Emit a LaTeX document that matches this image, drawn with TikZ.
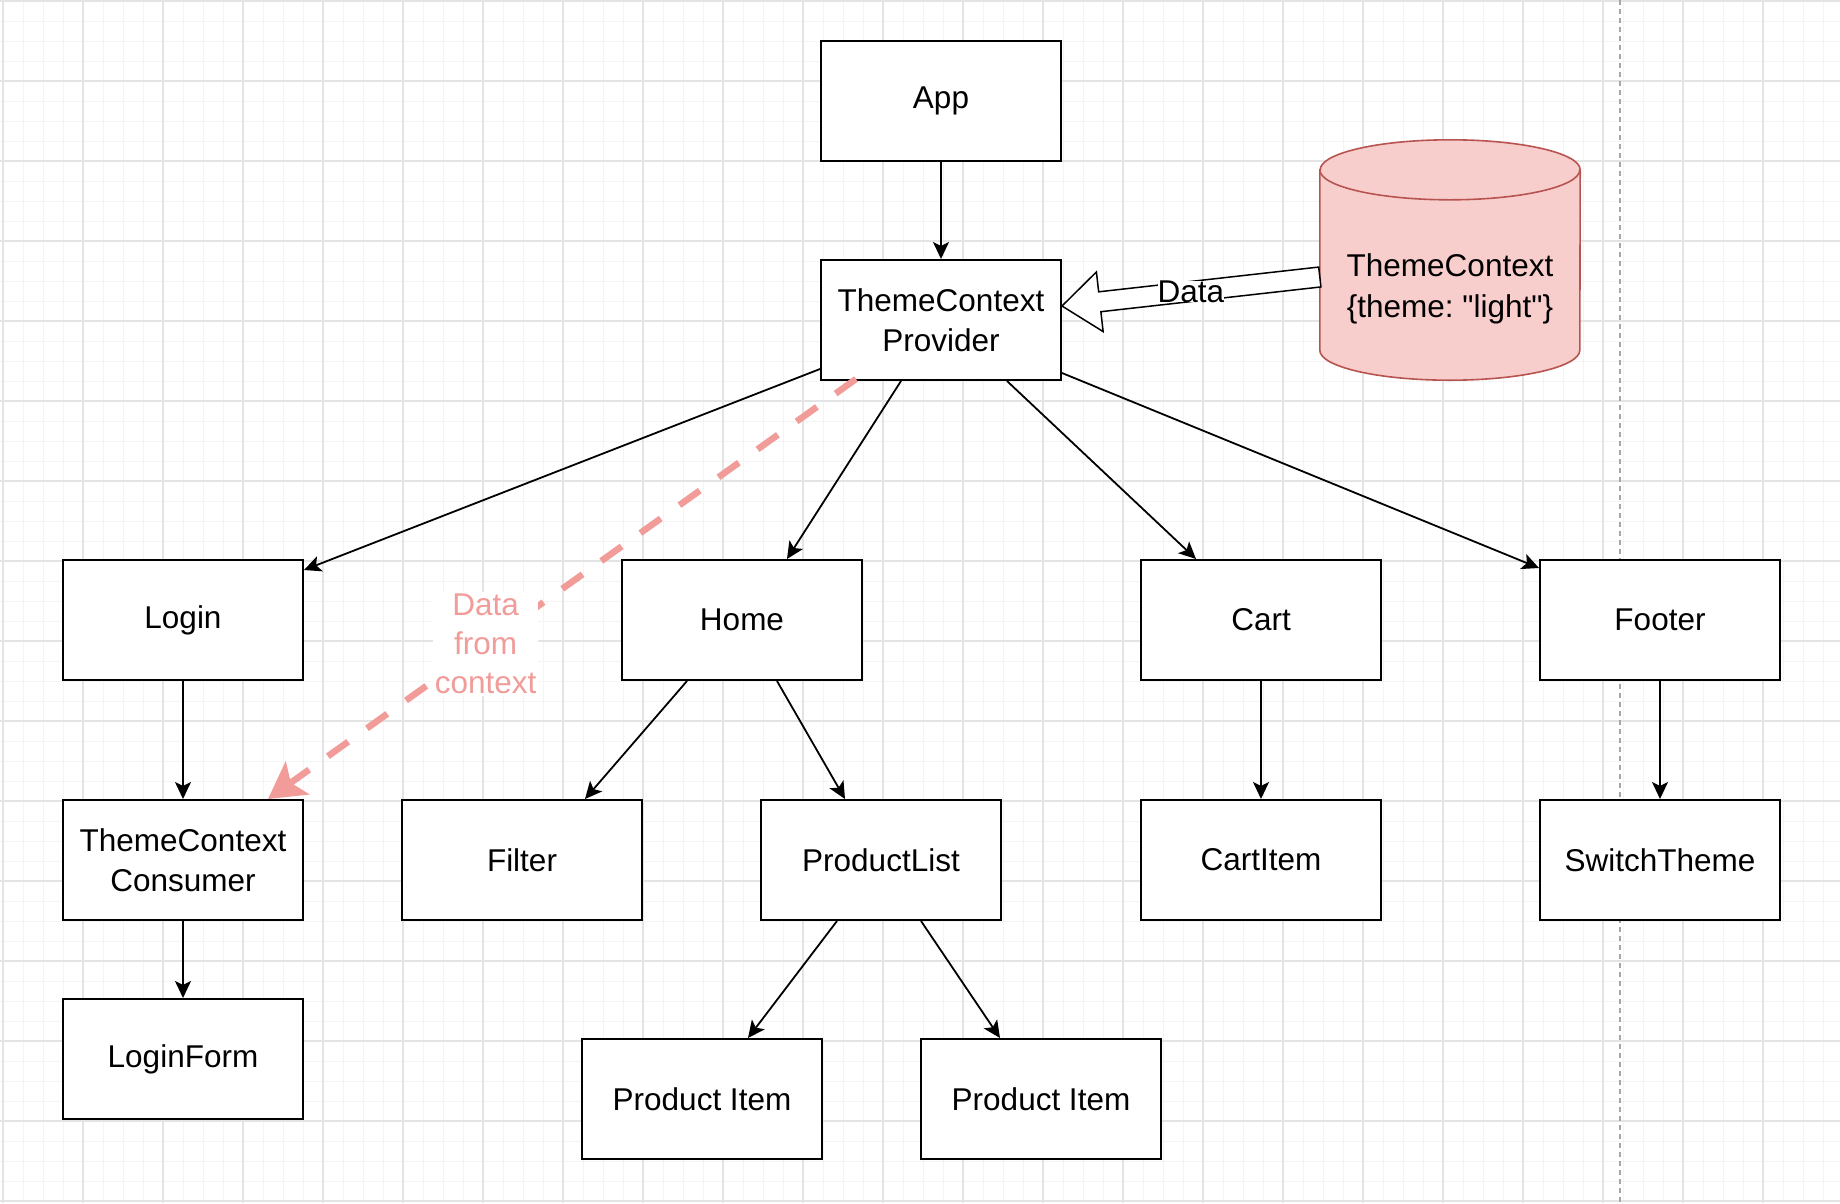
\documentclass[tikz,border=0pt]{standalone}
\usepackage{fontspec}
\setmainfont{Liberation Sans}[Ligatures=TeXOff]
\usetikzlibrary{arrows.meta,calc}
\definecolor{gridminor}{HTML}{F4F4F4}
\definecolor{gridmajor}{HTML}{E4E4E4}
\definecolor{cylfill}{HTML}{F8CECC}
\definecolor{cylline}{HTML}{B85450}
\definecolor{salmon}{HTML}{F19C99}
\frenchspacing
\begin{document}
\begin{tikzpicture}[x=1pt,y=-1pt,
  box/.style={draw=black,line width=2pt,fill=white,minimum width=240pt,minimum height=120pt,inner sep=0pt,align=center,font=\fontsize{31.5}{40}\selectfont},
  edge/.style={line width=1.8pt,-{Stealth[length=17pt,width=16pt,inset=4pt]}},
  lbl/.style={font=\fontsize{31.5}{39}\selectfont,align=center,inner sep=1pt},
  minorline/.style={draw=gridminor,line width=1pt},
  majorline/.style={draw=gridmajor,line width=1.6pt}]
\useasboundingbox (0,0) rectangle (1840,1203);
\fill[white] (0,0) rectangle (1840,1203);
% grid
\foreach \x in {3,23,...,1843} \draw[minorline] (\x,0) -- (\x,1203);
\foreach \y in {1,21,...,1201} \draw[minorline] (0,\y) -- (1840,\y);
\foreach \x in {3,83,...,1843} \draw[majorline] (\x,0) -- (\x,1203);
\foreach \y in {1,81,...,1201} \draw[majorline] (0,\y) -- (1840,\y);
\draw[gray!70,line width=1.5pt,dash pattern=on 5pt off 4pt] (1620,0) -- (1620,1203);

% nodes
\node[box] (app) at (941,101) {App};
\node[box] (prov) at (941,320) {ThemeContext\\Provider};
\node[box] (login) at (183,620) {Login};
\node[box] (home) at (742,620) {Home};
\node[box] (cart) at (1261,620) {Cart};
\node[box] (footer) at (1660,620) {Footer};
\node[box] (cons) at (183,860) {ThemeContext\\Consumer};
\node[box] (filter) at (522,860) {Filter};
\node[box] (plist) at (881,860) {ProductList};
\node[box] (citem) at (1261,860) {CartItem};
\node[box] (switch) at (1660,860) {SwitchTheme};
\node[box] (lform) at (183,1059) {LoginForm};
\node[box] (pi1) at (702,1099) {Product Item};
\node[box] (pi2) at (1041,1099) {Product Item};

% cylinder
\node[minimum width=260pt,minimum height=240pt,inner sep=0pt] (ctx) at (1450,260) {};
\path[fill=cylfill,draw=cylline,line width=1.6pt]
  ($(ctx.north west)+(0,30)$) -- ($(ctx.south west)+(0,-30)$)
  arc[start angle=180,end angle=360,x radius=130pt,y radius=30pt]
  -- ($(ctx.north east)+(0,30)$)
  arc[start angle=0,end angle=180,x radius=130pt,y radius=30pt] -- cycle;
\draw[cylline,line width=1.6pt] ($(ctx.north west)+(0,30)$)
  arc[start angle=180,end angle=360,x radius=130pt,y radius=30pt];
\node[lbl,font=\fontsize{31.5}{41}\selectfont] (ctxtext) at ($(ctx.center)+(0,29)$) {ThemeContext\\\{theme: "light"\}};

% flex arrow "Data"
\coordinate (dtip) at ($(prov.east)+(0,-14)$);
\coordinate (dtail) at ($(ctx.west)+(0,17)$);
\coordinate (hb) at ($(dtip)!38pt!(dtail)$);
\draw[fill=white,line width=1.5pt,line join=miter]
  (dtip) -- ($(hb)!30pt!90:(dtail)$) -- ($(hb)!10pt!90:(dtail)$)
  -- ($(dtail)!10pt!-90:(hb)$) -- ($(dtail)!10pt!90:(hb)$)
  -- ($(hb)!10pt!-90:(dtail)$) -- ($(hb)!30pt!-90:(dtail)$) -- cycle;
\node[lbl,fill=white,inner sep=0pt] (datalbl) at ($(dtip)!0.5!(dtail)$) {Data};

% edges
\draw[edge] (app) -- (prov);
\draw[edge] ($(prov.south west)+(0,-12)$) -- ($(login.north east)+(0,11)$);
\draw[edge] ($(prov.south)+(-40,0)$) -- ($(home.north)+(45,0)$);
\draw[edge] ($(prov.south)+(66,0)$) -- ($(cart.north)+(-65,0)$);
\draw[edge] ($(prov.south east)+(0,-8)$) -- ($(footer.north west)+(0,9)$);
\draw[edge] (login) -- (cons);
\draw[edge] (cons) -- (lform);
\draw[edge] ($(home.south)+(-55,0)$) -- ($(filter.north)+(63,0)$);
\draw[edge] ($(home.south)+(35,0)$) -- ($(plist.north)+(-36,0)$);
\draw[edge] ($(plist.south)+(-44,0)$) -- ($(pi1.north)+(46,0)$);
\draw[edge] ($(plist.south)+(40,0)$) -- ($(pi2.north)+(-41,0)$);
\draw[edge] (cart) -- (citem);
\draw[edge] (footer) -- (switch);

% dashed data-from-context arrow
\draw[salmon,line width=6.5pt,dash pattern=on 25pt off 23pt,
  -{Stealth[length=36pt,width=40pt,inset=8pt]}]
  ($(prov.south west)+(36,-2)$) -- ($(cons.north)+(85,0)$)
  node[pos=0.63,lbl,fill=white,text=salmon,inner sep=2pt] (dfc) {Data\\from\\context};
\end{tikzpicture}
\end{document}
